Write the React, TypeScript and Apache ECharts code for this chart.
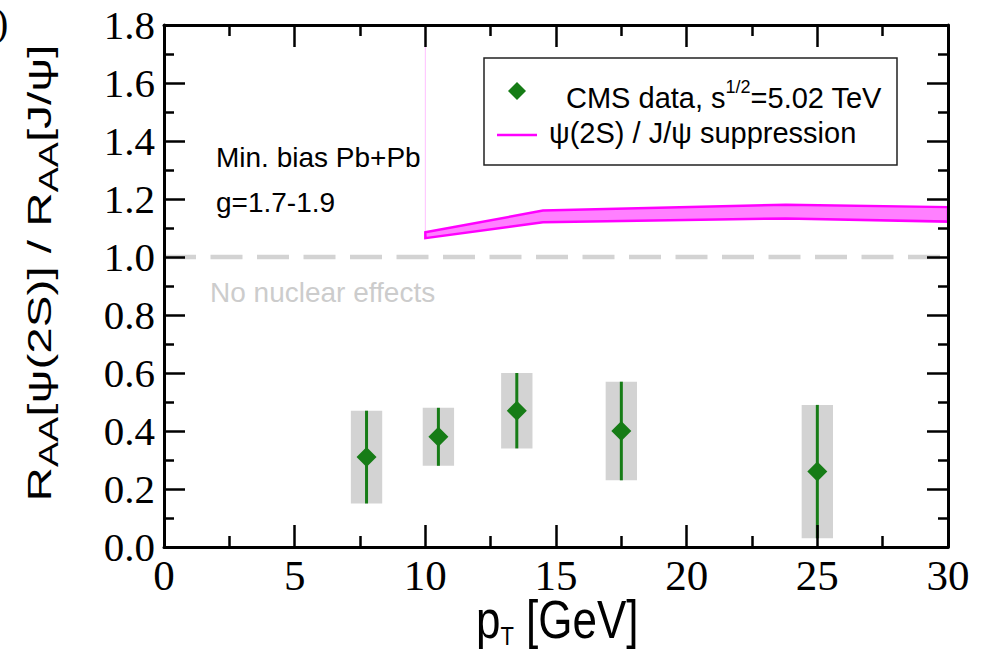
import React, { useEffect, useRef } from 'react';
import * as echarts from 'echarts';

// CMS data: psi(2S)/J/psi double ratio vs pT
const ptCenters = [7.75, 10.5, 13.5, 17.5, 25];
const ratioValues = [0.31, 0.38, 0.47, 0.4, 0.26];
const ratioLow = [0.15, 0.28, 0.34, 0.23, 0.03];
const ratioHigh = [0.47, 0.48, 0.6, 0.57, 0.49];
const binHalfWidth = [0.6, 0.6, 0.6, 0.6, 0.6];

// theory band: psi(2S) / J/psi suppression
const bandPt = [10, 14.5, 23.8, 30];
const bandUpper = [1.085, 1.16, 1.18, 1.172];
const bandLower = [1.065, 1.12, 1.133, 1.122];
const bandLeftEdge = [[10, 1.085], [10, 1.8]];

// "No nuclear effects" reference line
const referenceLine = [[0, 1], [30, 1]];

const xTickInterval = 5;
const yTickInterval = 0.2;

const GREEN = '#167c16';
const MAGENTA = '#ff00ff';

export default function App() {
  const ref = useRef<HTMLDivElement>(null);

  useEffect(() => {
    if (!ref.current) return;
    const chart = echarts.init(ref.current, null, { renderer: 'svg' });

    const axisCommon = {
      type: 'value' as const,
      z: 10,
      axisLine: { show: true, onZero: false, lineStyle: { color: '#000', width: 3 } },
      splitLine: { show: false },
    };

    const xAxisBase = {
      ...axisCommon,
      min: 0,
      max: 30,
      interval: xTickInterval,
      axisTick: { show: true, inside: true, length: 22, lineStyle: { color: '#000', width: 2.5 } },
      minorTick: { show: true, splitNumber: 2, length: 11, lineStyle: { color: '#000', width: 2.5 } },
    };
    const yAxisBase = {
      ...axisCommon,
      min: 0,
      max: 1.8,
      interval: yTickInterval,
      axisTick: { show: true, inside: true, length: 21, lineStyle: { color: '#000', width: 2.5 } },
      minorTick: { show: true, splitNumber: 2, length: 10, lineStyle: { color: '#000', width: 2.5 } },
    };

    const option: any = {
      animation: false,
      backgroundColor: '#fff',
      grid: { left: 164, right: 36, top: 25, bottom: 107, containLabel: false },
      xAxis: [
        {
          ...xAxisBase,
          position: 'bottom',
          axisLabel: {
            show: true,
            fontFamily: 'Liberation Serif',
            fontSize: 43,
            color: '#000',
            margin: 7,
            formatter: (v: number) => String(Math.round(v)),
          },
        },
        { ...xAxisBase, position: 'top', axisLabel: { show: false } },
      ],
      yAxis: [
        {
          ...yAxisBase,
          position: 'left',
          axisLabel: {
            show: true,
            fontFamily: 'Liberation Serif',
            fontSize: 41,
            color: '#000',
            margin: 9,
            formatter: (v: number) => v.toFixed(1),
          },
        },
        { ...yAxisBase, position: 'right', axisLabel: { show: false } },
      ],
      series: [
        {
          type: 'line',
          name: 'No nuclear effects',
          data: referenceLine,
          symbol: 'none',
          lineStyle: { color: '#d3d3d3', width: 4.5, type: [32, 14.5] },
          z: 1,
        },
        {
          type: 'line',
          data: bandLeftEdge,
          symbol: 'none',
          lineStyle: { color: 'rgba(255,0,255,0.25)', width: 1 },
          z: 1,
        },
        {
          type: 'custom',
          name: 'psi(2S) / J/psi suppression',
          data: [[bandPt[0], bandUpper[0]]],
          renderItem: (params: any, api: any) => {
            if (params.dataIndex !== 0) return null;
            const up = bandPt.map((x, i) => api.coord([x, bandUpper[i]]));
            const lo = bandPt.map((x, i) => api.coord([x, bandLower[i]])).reverse();
            return {
              type: 'polygon',
              shape: { points: up.concat(lo) },
              style: { fill: '#ff80ff', stroke: MAGENTA, lineWidth: 2.5 },
            };
          },
          z: 2,
        },
        {
          type: 'custom',
          name: 'CMS uncertainties',
          data: ptCenters.map((x, i) => [x, ratioLow[i], ratioHigh[i], binHalfWidth[i]]),
          renderItem: (params: any, api: any) => {
            const x = api.value(0);
            const lo = api.value(1);
            const hi = api.value(2);
            const hw = api.value(3);
            const tl = api.coord([x - hw, hi]);
            const br = api.coord([x + hw, lo]);
            const b = api.coord([x, lo]);
            const t = api.coord([x, hi]);
            return {
              type: 'group',
              children: [
                {
                  type: 'rect',
                  shape: { x: tl[0], y: tl[1], width: br[0] - tl[0], height: br[1] - tl[1] },
                  style: { fill: '#d3d3d3' },
                },
                {
                  type: 'line',
                  shape: { x1: b[0], y1: b[1], x2: t[0], y2: t[1] },
                  style: { stroke: GREEN, lineWidth: 3 },
                },
              ],
            };
          },
          z: 3,
        },
        {
          type: 'scatter',
          name: 'CMS data',
          data: ptCenters.map((x, i) => [x, ratioValues[i]]),
          symbol: 'diamond',
          symbolSize: 20,
          itemStyle: { color: GREEN, opacity: 1 },
          z: 4,
        },
      ],
      graphic: [
        {
          type: 'text',
          x: -5,
          y: 22,
          style: {
            text: ')',
            fontFamily: 'Liberation Serif',
            fontSize: 40,
            fill: '#000',
            align: 'left',
            verticalAlign: 'middle',
          },
        },
        {
          type: 'text',
          x: 39,
          y: 273,
          rotation: Math.PI / 2,
          scaleX: 1.4,
          style: {
            text: 'R{sub|AA}[ψ(2S)] / R{sub|AA}[J/ψ]',
            fontFamily: 'Liberation Sans',
            fontSize: 34,
            lineHeight: 46,
            fill: '#000',
            align: 'center',
            verticalAlign: 'middle',
            rich: {
              sub: {
                fontFamily: 'Liberation Sans',
                fontSize: 27,
                lineHeight: 22,
                verticalAlign: 'bottom',
                fill: '#000',
              },
            },
          },
        },
        {
          type: 'text',
          x: 476,
          y: 620,
          scaleY: 1.2,
          style: {
            text: 'p{sub|T} [GeV]',
            fontFamily: 'Liberation Sans',
            fontSize: 44,
            lineHeight: 48,
            fill: '#000',
            align: 'left',
            verticalAlign: 'middle',
            rich: {
              sub: {
                fontFamily: 'Liberation Sans',
                fontSize: 22,
                lineHeight: 18,
                verticalAlign: 'bottom',
                fill: '#000',
              },
            },
          },
        },
        {
          type: 'text',
          x: 216,
          y: 157,
          style: { text: 'Min. bias Pb+Pb', fontFamily: 'Liberation Sans', fontSize: 28, fill: '#000', align: 'left', verticalAlign: 'middle' },
        },
        {
          type: 'text',
          x: 216,
          y: 202,
          style: { text: 'g=1.7-1.9', fontFamily: 'Liberation Sans', fontSize: 28, fill: '#000', align: 'left', verticalAlign: 'middle' },
        },
        {
          type: 'text',
          x: 210,
          y: 292,
          style: { text: 'No nuclear effects', fontFamily: 'Liberation Sans', fontSize: 28, fill: '#cccccc', align: 'left', verticalAlign: 'middle' },
        },
        {
          type: 'group',
          z: 100,
          children: [
            {
              type: 'rect',
              shape: { x: 484, y: 58, width: 413, height: 107 },
              style: { fill: '#fff', stroke: '#222', lineWidth: 1.5 },
            },
            {
              type: 'polygon',
              shape: { points: [[517, 82], [526, 91], [517, 100], [508, 91]] },
              style: { fill: GREEN },
            },
            {
              type: 'text',
              x: 566,
              y: 98,
              style: {
                text: 'CMS data, s{sup|1/2}=5.02 TeV',
                fontFamily: 'Liberation Sans',
                fontSize: 29,
                lineHeight: 40,
                fill: '#000',
                align: 'left',
                verticalAlign: 'middle',
                rich: {
                  sup: { fontFamily: 'Liberation Sans', fontSize: 18, lineHeight: 20, verticalAlign: 'top', fill: '#000' },
                },
              },
            },
            {
              type: 'line',
              shape: { x1: 497, y1: 135, x2: 537, y2: 135 },
              style: { stroke: MAGENTA, lineWidth: 2.5 },
            },
            {
              type: 'text',
              x: 549,
              y: 133,
              style: {
                text: 'ψ(2S) / J/ψ suppression',
                fontFamily: 'Liberation Sans',
                fontSize: 29,
                fill: '#000',
                align: 'left',
                verticalAlign: 'middle',
              },
            },
          ],
        },
      ],
    };

    chart.setOption(option);
    return () => chart.dispose();
  }, []);

  return (
    <div
      ref={ref}
      style={{ position: 'absolute', left: 0, top: 0, width: 984, height: 654 }}
    />
  );
}
